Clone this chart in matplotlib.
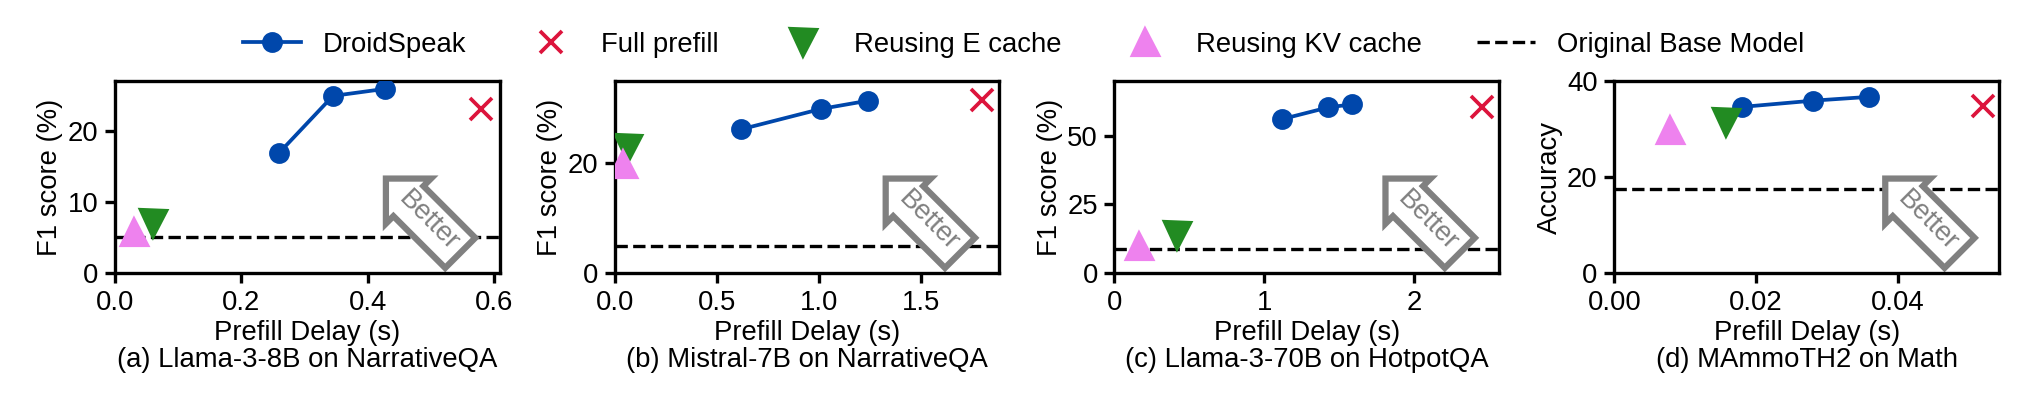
import matplotlib
matplotlib.use('Agg')
import matplotlib.pyplot as plt
from matplotlib.lines import Line2D

plt.rcParams['font.family'] = ['Liberation Sans', 'DejaVu Sans']
plt.rcParams['font.size'] = 6.6

# data
titles = ['(a) Llama-3-8B on NarrativeQA', '(b) Mistral-7B on NarrativeQA',
          '(c) Llama-3-70B on HotpotQA', '(d) MAmmoTH2 on Math']
ylabels = ['F1 score (%)', 'F1 score (%)', 'F1 score (%)', 'Accuracy']

droid_x = [[0.26, 0.345, 0.428], [0.62, 1.01, 1.24], [1.12, 1.43, 1.59], [0.018, 0.028, 0.036]]
droid_y = [[16.9, 24.9, 25.9], [26.2, 29.9, 31.4], [56.1, 60.4, 61.5], [34.6, 35.9, 36.7]]
full_x = [0.58, 1.80, 2.455, 0.052]
full_y = [23.1, 31.6, 60.7, 34.8]
ecache_x = [0.06, 0.064, 0.417, 0.0158]
ecache_y = [7.1, 22.7, 14.0, 31.5]
kv_x = [0.03, 0.04, 0.165, 0.0079]
kv_y = [5.8, 19.9, 9.7, 29.8]
base_y = [5.0, 5.0, 8.7, 17.4]

xlims = [0.609, 1.886, 2.571, 0.0543]
ylims = [27, 35, 70, 40]
xticks = [[0, 0.2, 0.4, 0.6], [0, 0.5, 1.0, 1.5], [0, 1, 2], [0, 0.02, 0.04]]
xticklabels = [['0.0', '0.2', '0.4', '0.6'], ['0.0', '0.5', '1.0', '1.5'],
               ['0', '1', '2'], ['0.00', '0.02', '0.04']]
yticks = [[0, 10, 20], [0, 20], [0, 25, 50], [0, 20, 40]]

blue = '#0047ab'
red = '#dc143c'
green = '#228b22'
violet = '#ee82ee'

fig, axes = plt.subplots(1, 4, figsize=(2027/300, 400/300), dpi=300)
fig.subplots_adjust(left=0.0567, right=0.9862, top=0.7975, bottom=0.3175, wspace=0.299)

for i, ax in enumerate(axes):
    ax.axhline(base_y[i], color='black', ls='--', lw=0.8, zorder=1)
    ax.plot(droid_x[i], droid_y[i], '-o', color=blue, ms=4, lw=0.9, zorder=3)
    ax.plot(full_x[i], full_y[i], 'x', color=red, ms=5.5, mew=0.9, zorder=3)
    ax.plot(ecache_x[i], ecache_y[i], 'v', color=green, ms=6, zorder=3)
    ax.plot(kv_x[i], kv_y[i], '^', color=violet, ms=6, zorder=3)
    ax.set_xlim(0, xlims[i])
    ax.set_ylim(0, ylims[i])
    ax.set_xticks(xticks[i])
    ax.set_xticklabels(xticklabels[i])
    ax.set_yticks(yticks[i])
    ax.set_ylabel(ylabels[i], labelpad=1)
    ax.set_xlabel('Prefill Delay (s)\n' + titles[i], linespacing=1.05, labelpad=1)
    ax.tick_params(length=2.5, width=0.8, pad=1.5)
    for s in ax.spines.values():
        s.set_linewidth(0.8)
    ax.text(0.815, 0.27, 'Better', transform=ax.transAxes, rotation=-45,
            ha='center', va='center', color='gray', fontsize=6.6,
            bbox=dict(boxstyle='larrow,pad=0.3', fc='white', ec='gray', lw=1.5),
            zorder=2)

handles = [
    Line2D([], [], color=blue, marker='o', ms=4, lw=0.9),
    Line2D([], [], color=red, marker='x', ls='none', ms=5.5, mew=0.9),
    Line2D([], [], color=green, marker='v', ls='none', ms=6),
    Line2D([], [], color=violet, marker='^', ls='none', ms=6),
    Line2D([], [], color='black', ls='--', lw=0.8),
]
labels = ['DroidSpeak', 'Full prefill', 'Reusing E cache', 'Reusing KV cache', 'Original Base Model']
fig.legend(handles, labels, loc='center', bbox_to_anchor=(0.505, 0.8875),
           ncol=5, frameon=False, columnspacing=2.0, handlelength=2.1)

plt.savefig('out.png', dpi=300)
